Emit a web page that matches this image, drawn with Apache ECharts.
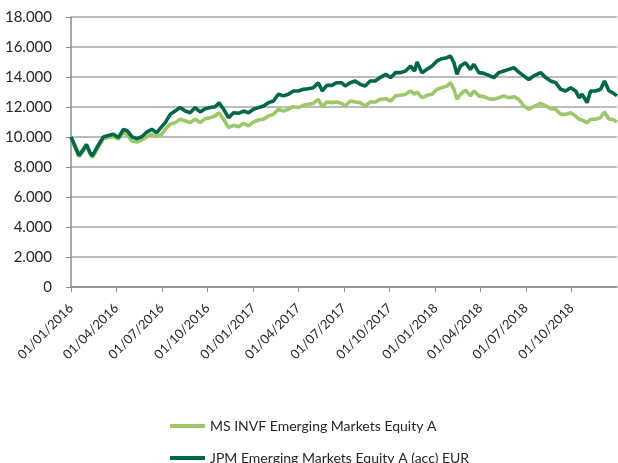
<!DOCTYPE html>
<html>
<head>
<meta charset="utf-8">
<script src="https://cdn.jsdelivr.net/npm/echarts@6/dist/echarts.min.js"></script>
<style>
  html, body { margin: 0; padding: 0; background: #fff; }
  #chart { width: 618px; height: 463px; }
</style>
</head>
<body>
<div id="chart"></div>
<script>
const dates = [
  '2016-01-01', '2016-01-09', '2016-01-17', '2016-01-26', '2016-02-01', '2016-02-08', '2016-02-13', '2016-02-22',
  '2016-02-28', '2016-03-06', '2016-03-16', '2016-03-26', '2016-04-05', '2016-04-15', '2016-04-22', '2016-05-02',
  '2016-05-12', '2016-05-22', '2016-06-01', '2016-06-11', '2016-06-21', '2016-07-01', '2016-07-08', '2016-07-18',
  '2016-07-28', '2016-08-07', '2016-08-17', '2016-08-27', '2016-09-06', '2016-09-16', '2016-09-26', '2016-10-06',
  '2016-10-16', '2016-10-24', '2016-11-02', '2016-11-12', '2016-11-22', '2016-12-02', '2016-12-12', '2016-12-22',
  '2017-01-01', '2017-01-11', '2017-01-21', '2017-01-31', '2017-02-10', '2017-02-20', '2017-03-02', '2017-03-12',
  '2017-03-22', '2017-04-01', '2017-04-11', '2017-04-21', '2017-05-01', '2017-05-11', '2017-05-19', '2017-05-28',
  '2017-06-07', '2017-06-17', '2017-06-27', '2017-07-04', '2017-07-14', '2017-07-24', '2017-08-03', '2017-08-13',
  '2017-08-23', '2017-09-02', '2017-09-12', '2017-09-23', '2017-10-03', '2017-10-13', '2017-10-23', '2017-11-02',
  '2017-11-12', '2017-11-20', '2017-11-25', '2017-12-05', '2017-12-15', '2017-12-25', '2018-01-04', '2018-01-14',
  '2018-01-24', '2018-01-31', '2018-02-07', '2018-02-13', '2018-02-20', '2018-03-02', '2018-03-12', '2018-03-19',
  '2018-03-29', '2018-04-08', '2018-04-18', '2018-04-28', '2018-05-08', '2018-05-18', '2018-05-28', '2018-06-07',
  '2018-06-17', '2018-06-27', '2018-07-07', '2018-07-17', '2018-07-31', '2018-08-10', '2018-08-20', '2018-08-30',
  '2018-09-09', '2018-09-19', '2018-09-29', '2018-10-09', '2018-10-16', '2018-10-22', '2018-11-01', '2018-11-08',
  '2018-11-18', '2018-11-28', '2018-12-06', '2018-12-15', '2018-12-22', '2018-12-31'
];

// MS INVF Emerging Markets Equity A
const msValues = [
  10000, 9290, 8690, 9070, 9400, 8900, 8630, 9180,
  9510, 9890, 9960, 10020, 9850, 10290, 10180, 9740,
  9670, 9800, 10020, 10180, 10020, 10180, 10510, 10850,
  10960, 11180, 11070, 10960, 11180, 10960, 11220, 11290,
  11400, 11620, 11180, 10620, 10780, 10690, 10910, 10740,
  11000, 11130, 11180, 11400, 11510, 11850, 11730, 11850,
  12020, 11960, 12110, 12180, 12240, 12510, 12020, 12330,
  12290, 12330, 12240, 12070, 12400, 12330, 12290, 12070,
  12330, 12330, 12510, 12550, 12400, 12740, 12780, 12850,
  13070, 12850, 13000, 12620, 12780, 12850, 13180, 13290,
  13400, 13620, 13180, 12510, 12850, 13130, 12740, 13070,
  12740, 12690, 12550, 12510, 12620, 12740, 12620, 12690,
  12510, 12070, 11850, 12020, 12240, 12070, 11890, 11850,
  11510, 11510, 11620, 11400, 11180, 11130, 10960, 11180,
  11180, 11290, 11670, 11180, 11180, 11000
];

// JPM Emerging Markets Equity A (acc) EUR
const jpmValues = [
  10000, 9400, 8780, 9180, 9510, 8960, 8740, 9300,
  9630, 10000, 10100, 10180, 9960, 10500, 10440, 10020,
  9890, 10020, 10330, 10510, 10290, 10690, 10960, 11510,
  11730, 11960, 11730, 11620, 11960, 11670, 11890, 11960,
  12020, 12290, 11850, 11290, 11620, 11580, 11730, 11620,
  11850, 11960, 12070, 12290, 12400, 12850, 12740, 12850,
  13070, 13070, 13180, 13220, 13290, 13620, 13070, 13440,
  13440, 13620, 13620, 13400, 13620, 13730, 13510, 13400,
  13730, 13730, 13960, 14180, 13960, 14290, 14290, 14400,
  14730, 14400, 15000, 14290, 14510, 14730, 15070, 15220,
  15290, 15400, 14950, 14180, 14730, 14950, 14510, 14840,
  14290, 14240, 14110, 13960, 14290, 14400, 14510, 14620,
  14330, 14070, 13840, 14070, 14290, 13960, 13730, 13620,
  13180, 13070, 13290, 13070, 12620, 12850, 12290, 13070,
  13070, 13180, 13730, 13070, 12960, 12740
];

const tickLabels = [
  '01/01/2016', '01/04/2016', '01/07/2016', '01/10/2016',
  '01/01/2017', '01/04/2017', '01/07/2017', '01/10/2017',
  '01/01/2018', '01/04/2018', '01/07/2018', '01/10/2018'
];

const seriesNames = ['MS INVF Emerging Markets Equity A', 'JPM Emerging Markets Equity A (acc) EUR'];
const colors = ['#9cc76a', '#00664a'];

// everything on the x axis is in days since 01/01/2016
const DAY = 86400000;
const origin = Date.UTC(2016, 0, 1);
const isoToDay = (s) => {
  const [y, m, d] = s.split('-').map(Number);
  return Math.round((Date.UTC(y, m - 1, d) - origin) / DAY);
};
const labelToDay = (s) => {
  const [d, m, y] = s.split('/').map(Number);
  return Math.round((Date.UTC(y, m - 1, d) - origin) / DAY);
};
const tickDays = tickLabels.map(labelToDay);
const labelByDay = {};
tickLabels.forEach((l, i) => { labelByDay[tickDays[i]] = l; });
const endDay = isoToDay('2018-12-31');

const legendBase = {
  left: 165,
  itemWidth: 35,
  itemHeight: 4,
  icon: 'rect',
  textStyle: { fontSize: 14, color: '#262626', fontFamily: 'Lato' }
};

const chart = echarts.init(document.getElementById('chart'));

chart.setOption({
  animation: false,
  textStyle: { fontFamily: 'Lato' },
  grid: { left: 71, right: 1, top: 17, bottom: 176 },
  legend: [
    { ...legendBase, top: 414, data: [seriesNames[0]] },
    { ...legendBase, top: 446, data: [seriesNames[1]] }
  ],
  xAxis: {
    type: 'value',
    min: 0,
    max: endDay,
    splitLine: { show: false },
    axisLine: { lineStyle: { color: '#8c8c8c', width: 1.5 } },
    axisTick: {
      show: true,
      length: 5,
      customValues: tickDays,
      lineStyle: { color: '#8c8c8c' }
    },
    axisLabel: {
      customValues: tickDays,
      rotate: 45,
      margin: 19,
      fontSize: 13,
      color: '#262626',
      formatter: (v) => labelByDay[Math.round(v)] || ''
    }
  },
  yAxis: {
    type: 'value',
    min: 0,
    max: 18000,
    interval: 2000,
    axisLine: { show: true, lineStyle: { color: '#8c8c8c', width: 1.5 } },
    axisTick: { show: true, length: 5, lineStyle: { color: '#8c8c8c' } },
    splitLine: { lineStyle: { color: '#a6a6a6', width: 1.5 } },
    axisLabel: {
      margin: 19,
      fontSize: 15,
      color: '#262626',
      formatter: (v) => String(v).replace(/\B(?=(\d{3})+(?!\d))/g, '.')
    }
  },
  series: [
    {
      name: seriesNames[0],
      type: 'line',
      showSymbol: false,
      data: dates.map((d, i) => [isoToDay(d), msValues[i]]),
      lineStyle: { color: colors[0], width: 3.6 },
      itemStyle: { color: colors[0] }
    },
    {
      name: seriesNames[1],
      type: 'line',
      showSymbol: false,
      data: dates.map((d, i) => [isoToDay(d), jpmValues[i]]),
      lineStyle: { color: colors[1], width: 3.6 },
      itemStyle: { color: colors[1] }
    }
  ]
});
</script>
</body>
</html>
